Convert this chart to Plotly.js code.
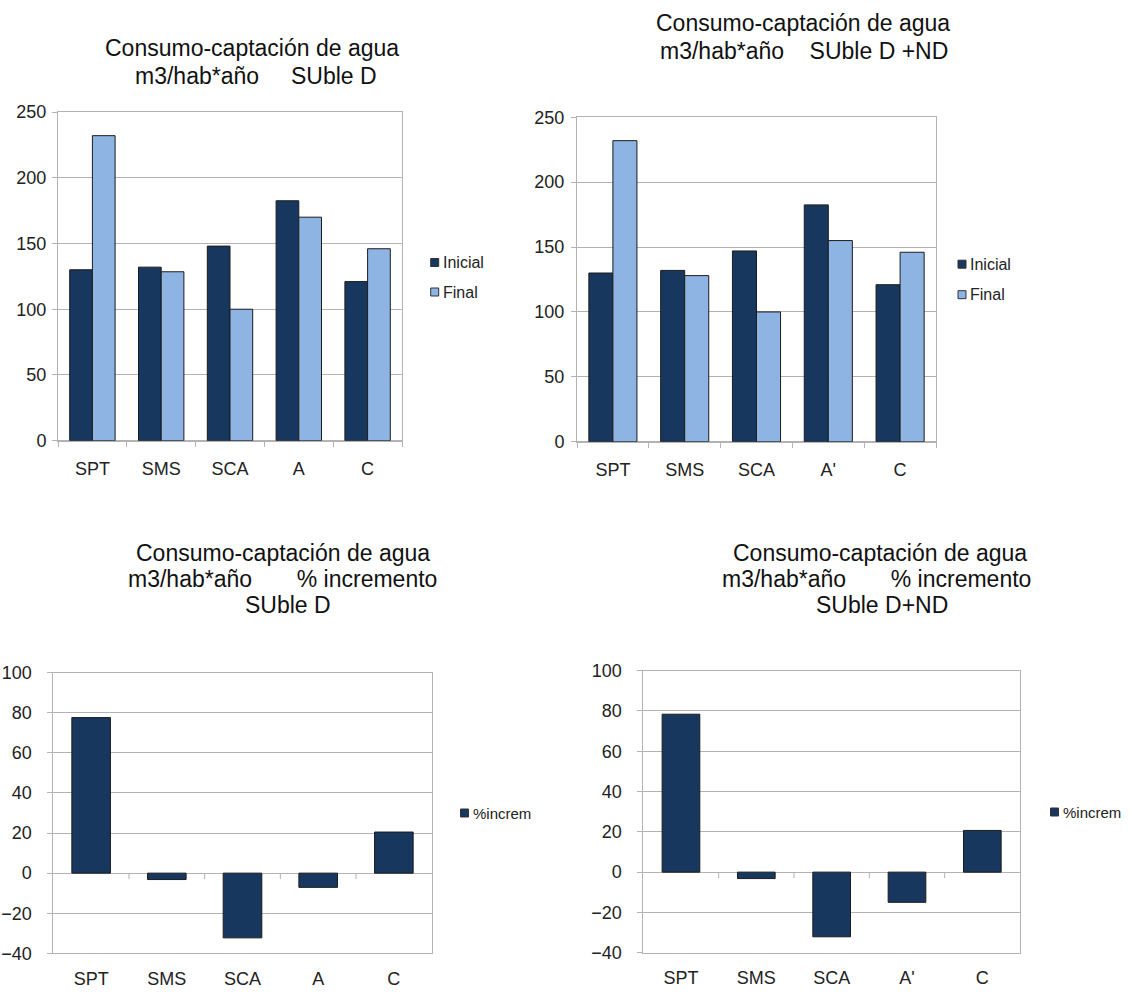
<!DOCTYPE html>
<html>
<head>
<meta charset="utf-8">
<script src="https://cdn.plot.ly/plotly-3.0.1.min.js"></script>
<style>
  html, body { margin: 0; padding: 0; background: #ffffff; }
  #chart { width: 1130px; height: 992px; }
</style>
</head>
<body>
<div id="chart"></div>
<script>
// Water consumption / abstraction per inhabitant (m3/hab*año)
const catsD = ['SPT', 'SMS', 'SCA', 'A', 'C'];
const catsND = ['SPT', 'SMS', 'SCA', "A'", 'C'];
const seriesNames = ['Inicial', 'Final'];
const incremName = '%increm';

const inicialD = [130, 132, 148, 182.5, 121];
const finalD = [232, 128.5, 100, 170, 146];
const inicialND = [130, 132, 147, 182.5, 121];
const finalND = [232, 128, 100, 155, 146];

const incremD = [77.6, -3.2, -32.3, -7.1, 20.5];
const incremND = [78.4, -3.2, -32.1, -15, 20.7];

const titleTL = ['Consumo-captación de agua', 'm3/hab*año     SUble D'];
const titleTR = ['Consumo-captación de agua', 'm3/hab*año    SUble D +ND'];
const titleBL = ['Consumo-captación de agua', 'm3/hab*año       % incremento', 'SUble D'];
const titleBR = ['Consumo-captación de agua', 'm3/hab*año       % incremento', 'SUble D+ND'];

// colours
const cInicial = '#17375E';
const cFinal = '#8EB4E3';
const cEdge = '#1c1c1c';
const cGrid = '#b3b3b3';
const cText = '#222222';

const W = 1130, H = 992;
const fx = p => p / W;
const fy = p => 1 - p / H;
const FONT = 'Liberation Sans, Arial, sans-serif';
const TITLE_SIZE = 23;

const nbsp = s => s.replace(/ /g, '\u00a0');

function barTrace(x, y, name, color, ax, width, offset) {
  const t = {
    type: 'bar', x: x, y: y, name: name,
    xaxis: 'x' + ax, yaxis: 'y' + ax,
    width: width,
    marker: { color: color, line: { color: cEdge, width: 1 } },
    showlegend: false
  };
  if (offset !== undefined) t.offset = offset;
  return t;
}

const data = [
  barTrace(catsD, inicialD, seriesNames[0], cInicial, '', 0.33, -0.33),
  barTrace(catsD, finalD, seriesNames[1], cFinal, '', 0.33, 0),
  barTrace(catsND, inicialND, seriesNames[0], cInicial, '2', 0.335, -0.335),
  barTrace(catsND, finalND, seriesNames[1], cFinal, '2', 0.335, 0),
  barTrace(catsD, incremD, incremName, cInicial, '3', 0.51),
  barTrace(catsND, incremND, incremName, cInicial, '4', 0.5)
];

function xAxis(dom, anchor, withTicks, standoff) {
  return {
    domain: [fx(dom[0]), fx(dom[1])], anchor: anchor,
    type: 'category', range: [-0.5, 4.5],
    showgrid: false, zeroline: false,
    showline: true, mirror: true, linecolor: cGrid, linewidth: 1,
    ticks: withTicks ? 'outside' : '', tickson: 'boundaries',
    ticklen: 5, tickcolor: cGrid,
    ticklabelstandoff: standoff,
    tickfont: { family: FONT, size: 18, color: cText },
    fixedrange: true
  };
}

function yAxis(dom, anchor, range, dtick, standoff) {
  return {
    domain: [fy(dom[1]), fy(dom[0])], anchor: anchor,
    range: range, dtick: dtick, tick0: 0,
    showgrid: true, gridcolor: cGrid, gridwidth: 1,
    zeroline: true, zerolinecolor: cGrid, zerolinewidth: 1,
    showline: true, mirror: true, linecolor: cGrid, linewidth: 1,
    ticks: 'outside', ticklen: 5, tickcolor: cGrid,
    ticklabelstandoff: standoff,
    tickfont: { family: FONT, size: 18, color: cText },
    fixedrange: true
  };
}

const annotations = [];
function titleLines(lines, centers, baselines) {
  lines.forEach((txt, i) => {
    annotations.push({
      xref: 'paper', yref: 'paper',
      x: fx(centers[i]), y: fy(baselines[i] - 0.35 * TITLE_SIZE),
      xanchor: 'center', yanchor: 'middle',
      text: nbsp(txt), showarrow: false,
      font: { family: FONT, size: TITLE_SIZE, color: '#111111' }
    });
  });
}
titleLines(titleTL, [252, 256], [55.7, 84.3]);
titleLines(titleTR, [802.5, 804], [30.7, 59.3]);
titleLines(titleBL, [283.4, 282.5, 288], [560.7, 587.2, 613.5]);
titleLines(titleBR, [880, 876.7, 881.7], [560.7, 587.2, 613.5]);

const shapes = [];
// legend entries: swatch + label
function legendEntry(name, color, sx, sy, tx, size) {
  const h = 4;
  shapes.push({
    type: 'rect', xref: 'paper', yref: 'paper',
    x0: fx(sx - h), x1: fx(sx + h), y0: fy(sy + h), y1: fy(sy - h),
    fillcolor: color, line: { color: '#333333', width: 1 }
  });
  annotations.push({
    xref: 'paper', yref: 'paper',
    x: fx(tx - 2), y: fy(sy),
    xanchor: 'left', yanchor: 'middle',
    text: name, showarrow: false,
    font: { family: FONT, size: size, color: cText }
  });
}
legendEntry(seriesNames[0], cInicial, 434.7, 262.5, 442.7, 16);
legendEntry(seriesNames[1], cFinal, 434.7, 292, 442.7, 16);
legendEntry(seriesNames[0], cInicial, 962, 264.2, 970, 16);
legendEntry(seriesNames[1], cFinal, 962, 294.7, 970, 16);
legendEntry(incremName, cInicial, 464.5, 813, 473.3, 15);
legendEntry(incremName, cInicial, 1054.5, 812, 1063.3, 15);

// category boundary ticks on the zero line of the percentage charts
[['x3', 'y3'], ['x4', 'y4']].forEach(([xr, yr]) => {
  for (let i = 1; i < catsD.length; i++) {
    shapes.push({
      type: 'line', xref: xr, yref: yr,
      x0: i - 0.5, x1: i - 0.5,
      ysizemode: 'pixel', yanchor: 0, y0: 0, y1: -6,
      line: { color: cGrid, width: 1 }
    });
  }
});

const layout = {
  width: W, height: H,
  margin: { l: 0, r: 0, t: 0, b: 0 },
  paper_bgcolor: '#ffffff', plot_bgcolor: '#ffffff',
  barmode: 'group',
  showlegend: false,
  hovermode: false,
  font: { family: FONT, color: cText },
  xaxis: xAxis([58, 402], 'y', true, 12),
  yaxis: yAxis([112, 440.7], 'x', [0, 250], 50, 2),
  xaxis2: xAxis([577, 936], 'y2', true, 12),
  yaxis2: yAxis([117.3, 441.7], 'x2', [0, 250], 50, 3),
  xaxis3: xAxis([53.3, 431.7], 'y3', false, 9),
  yaxis3: yAxis([672.7, 953.3], 'x3', [-40, 100], 20, 12),
  xaxis4: xAxis([643.3, 1020], 'y4', false, 9),
  yaxis4: yAxis([670.7, 952.7], 'x4', [-40, 100], 20, 12),
  annotations: annotations,
  shapes: shapes
};

Plotly.newPlot('chart', data, layout, { staticPlot: true, displayModeBar: false });
</script>
</body>
</html>
